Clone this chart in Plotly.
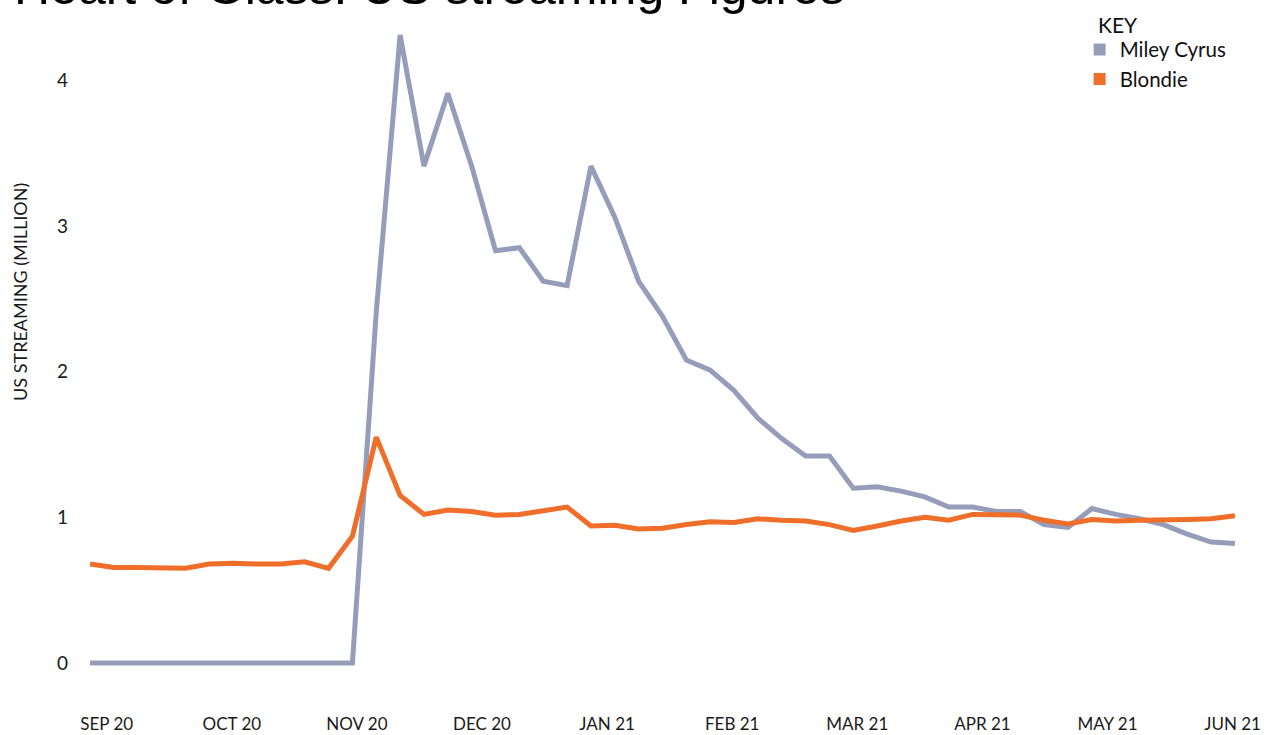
import plotly.graph_objects as go
import numpy as np

weeks = list(range(49))
miley = [0, 0, 0, 0, 0, 0, 0, 0, 0, 0, 0, 0,
         2.41, 4.31, 3.41, 3.91, 3.41, 2.83, 2.85, 2.62, 2.59, 3.41,
         3.06, 2.62, 2.38, 2.08, 2.01, 1.87, 1.68, 1.54, 1.42, 1.42,
         1.20, 1.21, 1.18, 1.14, 1.07, 1.07, 1.04, 1.04, 0.95, 0.93,
         1.06, 1.02, 0.99, 0.95, 0.885, 0.83, 0.82]
blondie = [0.68, 0.655, 0.655, 0.655, 0.65, 0.68, 0.685, 0.68, 0.68, 0.695,
           0.65, 0.87, 1.55, 1.15, 1.02, 1.05, 1.04, 1.015, 1.02, 1.045,
           1.07, 0.94, 0.945, 0.92, 0.925, 0.95, 0.97, 0.965, 0.99, 0.98,
           0.975, 0.95, 0.91, 0.94, 0.975, 1.00, 0.98, 1.02, 1.02, 1.015,
           0.98, 0.955, 0.985, 0.975, 0.98, 0.98, 0.985, 0.99, 1.01]
month_labels = ["SEP 20", "OCT 20", "NOV 20", "DEC 20", "JAN 21",
                "FEB 21", "MAR 21", "APR 21", "MAY 21", "JUN 21"]
series_names = ["Miley Cyrus", "Blondie"]
colors = ["#959DBB", "#EE6E2A"]

tick_pos = np.linspace(0.7, 47.9, len(month_labels))

fig = go.Figure()
for name, vals, c in zip(series_names, [miley, blondie], colors):
    fig.add_trace(go.Scatter(x=weeks, y=vals, mode="lines", name=name,
                             line=dict(color=c, width=5), showlegend=False))
    fig.add_trace(go.Scatter(x=[None], y=[None], mode="markers", name=name,
                             marker=dict(symbol="square", size=15, color=c),
                             showlegend=True))

fig.update_layout(
    width=1277, height=735,
    margin=dict(l=75, r=27, t=0, b=30, autoexpand=False),
    paper_bgcolor="white", plot_bgcolor="white",
    font=dict(family="Lato, Liberation Sans, sans-serif", color="#1a1a1a"),
    xaxis=dict(range=[-0.63, 48.63], showgrid=False, zeroline=False, showline=False,
               automargin=False,
               tickmode="array", tickvals=tick_pos, ticktext=month_labels,
               tickfont=dict(size=17, color="#1a1a1a"), ticks="", ticklabelstandoff=7),
    yaxis=dict(range=[-0.288, 4.55], showgrid=False, zeroline=False, showline=False,
               automargin=False,
               tickvals=[0, 1, 2, 3, 4], tickfont=dict(size=19, color="#1a1a1a"),
               ticks="", ticklabelstandoff=6),
    legend=dict(x=0.855, y=0.958, xanchor="left", yanchor="top",
                font=dict(size=20.5, color="#111111"), bgcolor="rgba(0,0,0,0)",
                tracegroupgap=0, itemsizing="constant", itemwidth=30),
    annotations=[
        dict(text="Heart of Glass: US streaming Figures", xref="paper", yref="paper",
             x=-0.0536, y=1.0, yshift=-17, xanchor="left", yanchor="bottom", showarrow=False,
             font=dict(family="Liberation Sans, Arial, sans-serif", size=50, color="#000000")),
        dict(text="KEY", xref="paper", yref="paper",
             x=0.869, y=1.0, yshift=-24, xanchor="left", yanchor="middle", showarrow=False,
             font=dict(size=21, color="#111111")),
        dict(text="US STREAMING (MILLION)", xref="paper", yref="paper",
             x=-0.0468, y=0.586, xanchor="center", yanchor="middle", textangle=-90,
             showarrow=False, font=dict(size=18, color="#1a1a1a")),
    ],
)

fig.write_html("out.html", config={"displayModeBar": False},
               post_script="document.body.style.margin='0px';")
